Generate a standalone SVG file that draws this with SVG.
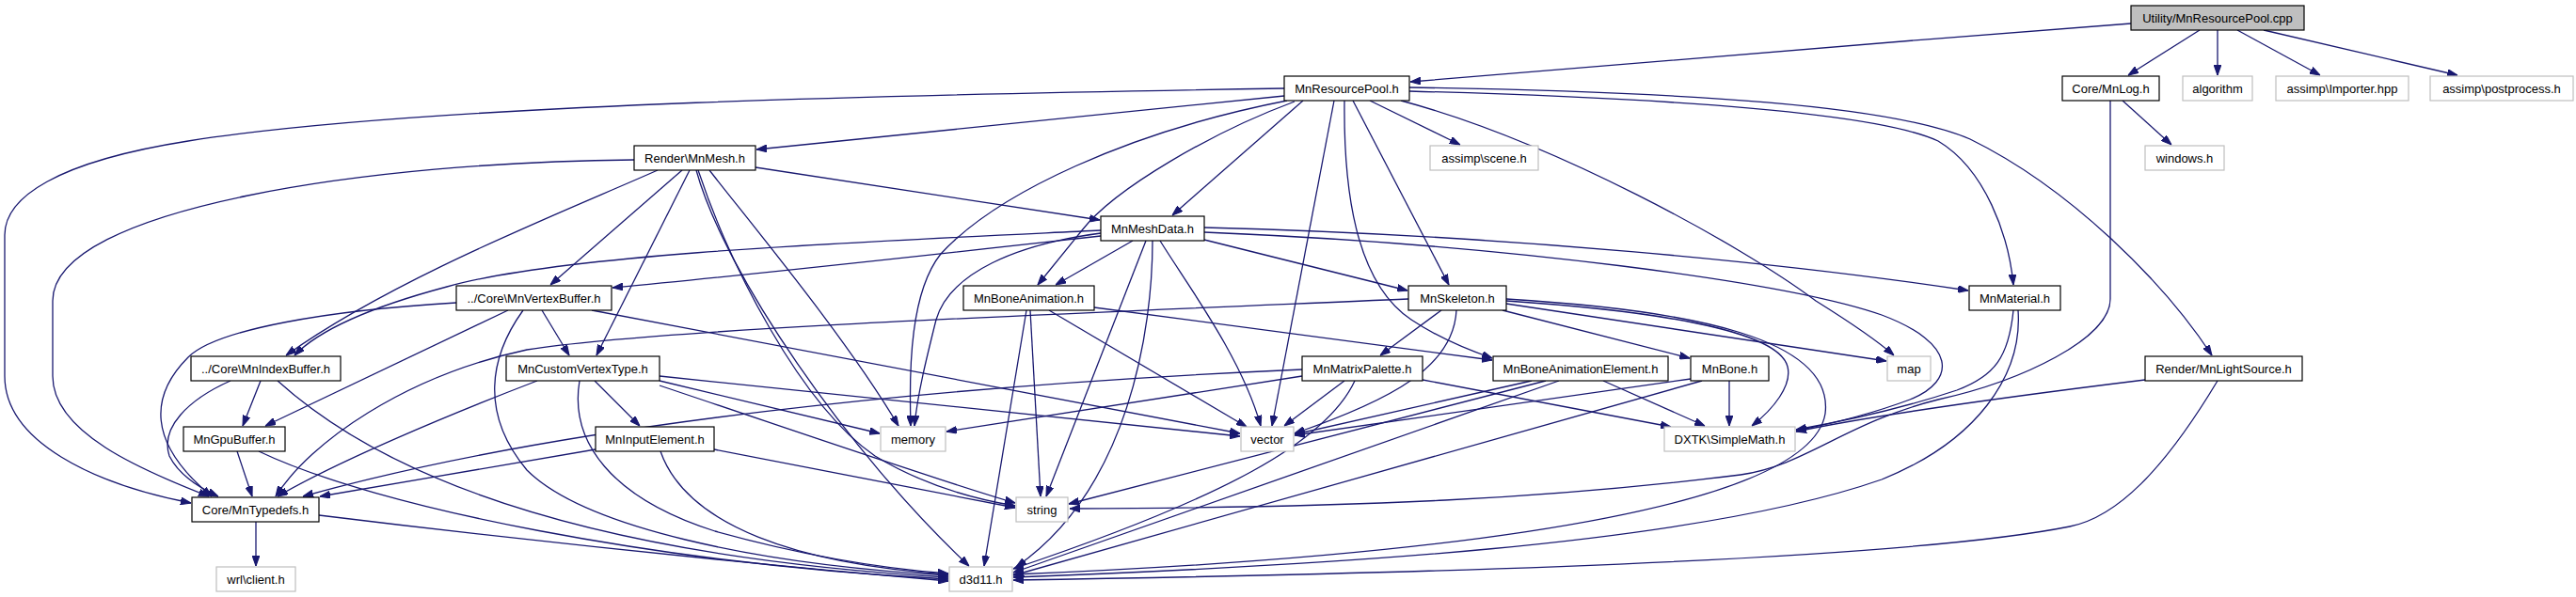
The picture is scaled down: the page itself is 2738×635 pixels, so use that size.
<svg xmlns="http://www.w3.org/2000/svg" width="2738" height="635" viewBox="0 0 2738 635">
<style>
.n rect{fill:#fff;stroke:#000;stroke-width:1.2}
.g rect{fill:#fff;stroke:#bfbfbf;stroke-width:1.2}
.r rect{fill:#bfbfbf;stroke:#000;stroke-width:1.2}
text{font-family:"Liberation Sans",Arial,sans-serif;font-size:13px;text-anchor:middle;fill:#000}
#edges path{fill:none;stroke:#191970;stroke-width:1.3;marker-end:url(#a)}
</style>
<defs>
<marker id="a" markerUnits="userSpaceOnUse" markerWidth="11" markerHeight="8" viewBox="0 0 10 7" refX="10" refY="3.5" orient="auto">
<path d="M0,0 L10,3.5 L0,7 z" fill="#191970" stroke="#191970"/>
</marker>
</defs>
<rect width="2738" height="635" fill="#fff"/>
<g id="edges">
<path d="M2265,25 C2000,45 1700,70 1499,87"/>
<path d="M2338,32 L2262,80"/>
<path d="M2357,32 L2357,80"/>
<path d="M2378,32 L2466,80"/>
<path d="M2406,32 L2612,80"/>
<path d="M2256,107 L2308,154"/>
<path d="M2243,107 L2243,318 C2243,360 2150,405 2060,425 C1960,450 1920,495 1850,505 C1650,530 1450,540 1137,541"/>
<path d="M1365,94 C1000,100 450,110 200,150 C60,172 5,210 5,250 L5,400 C5,470 100,515 203,535"/>
<path d="M1365,102 L804,159"/>
<path d="M1368,107 C1200,140 1060,205 1000,270 C968,310 966,390 968,453"/>
<path d="M1376,108 C1290,140 1185,200 1150,245 L1103,303"/>
<path d="M1385,107 L1246,229"/>
<path d="M1418,107 L1352,453"/>
<path d="M1429,107 C1428,200 1440,300 1500,340 C1530,360 1560,372 1586,381"/>
<path d="M1438,107 L1540,303"/>
<path d="M1456,107 L1552,154"/>
<path d="M1489,107 C1650,150 1850,260 1930,320 C1970,345 1995,362 2013,378"/>
<path d="M1498,97 C1800,105 2000,122 2060,150 C2110,180 2135,250 2140,303"/>
<path d="M1498,93 C1800,98 2010,112 2094,148 C2200,200 2300,300 2351,378"/>
<path d="M674,170 C400,172 56,220 56,320 L56,400 C56,460 150,500 222,528"/>
<path d="M699,181 C600,225 420,295 304,378"/>
<path d="M725,181 L585,303"/>
<path d="M733,181 L634,378"/>
<path d="M740,181 C770,290 900,480 1030,602"/>
<path d="M742,181 C775,280 850,430 930,485 C980,515 1030,530 1079,538"/>
<path d="M754,181 C800,240 900,360 955,453"/>
<path d="M803,178 L1169,234"/>
<path d="M1170,245 C900,258 600,270 475,305 C400,325 340,350 313,378"/>
<path d="M1170,251 C1000,270 800,292 651,306"/>
<path d="M1170,248 C1080,260 1010,290 995,340 C985,380 975,420 972,453"/>
<path d="M1204,256 L1122,303"/>
<path d="M1225,256 C1225,350 1200,520 1080,603"/>
<path d="M1218,256 L1112,528"/>
<path d="M1233,256 C1260,300 1320,380 1340,453"/>
<path d="M1280,255 L1496,309"/>
<path d="M1280,242 C1600,250 1900,280 2092,309"/>
<path d="M1280,247 C1600,260 1900,300 2000,335 C2080,365 2080,405 2030,425 C1990,440 1950,450 1909,458"/>
<path d="M485,322 C350,330 230,350 200,380 C160,420 155,470 225,528"/>
<path d="M540,330 L282,453"/>
<path d="M576,330 L605,378"/>
<path d="M556,330 C520,380 510,440 560,500 C620,560 800,600 1008,612"/>
<path d="M629,330 L1318,461"/>
<path d="M245,405 C200,425 170,455 180,485 C190,505 210,518 232,528"/>
<path d="M277,405 L258,453"/>
<path d="M295,405 C400,500 600,590 1008,614"/>
<path d="M252,480 L268,528"/>
<path d="M275,480 C400,540 700,600 1008,616"/>
<path d="M571,405 C480,440 360,490 295,528"/>
<path d="M632,405 L680,453"/>
<path d="M616,405 C605,470 650,530 760,565 C850,590 930,604 1008,610"/>
<path d="M701,405 L935,461"/>
<path d="M701,400 L1318,464"/>
<path d="M701,410 C850,460 1000,512 1079,535"/>
<path d="M633,478 L340,528"/>
<path d="M702,480 C730,560 850,600 1008,611"/>
<path d="M759,478 L1079,540"/>
<path d="M272,555 L272,602"/>
<path d="M339,548 C600,580 800,600 1008,618"/>
<path d="M1163,327 L1586,383"/>
<path d="M1091,330 L1046,602"/>
<path d="M1095,330 L1106,528"/>
<path d="M1115,330 L1325,454"/>
<path d="M1497,318 C1100,335 700,350 560,372 C430,400 330,470 293,528"/>
<path d="M1532,330 L1467,378"/>
<path d="M1548,330 C1545,390 1480,425 1376,461"/>
<path d="M1597,330 L1796,381"/>
<path d="M1601,323 L2005,384"/>
<path d="M1601,320 C1750,330 1890,350 1900,390 C1905,410 1885,435 1862,453"/>
<path d="M1601,318 C1800,330 1950,360 1940,440 C1920,560 1400,598 1077,611"/>
<path d="M1384,393 C1000,410 600,450 322,528"/>
<path d="M1384,400 L1006,459"/>
<path d="M1429,405 L1365,453"/>
<path d="M1440,405 C1410,470 1300,530 1077,605"/>
<path d="M1512,404 L1776,454"/>
<path d="M1628,405 L1376,462"/>
<path d="M1643,405 L1136,536"/>
<path d="M1657,405 L1077,609"/>
<path d="M1704,405 L1812,453"/>
<path d="M1797,403 L1376,463"/>
<path d="M1809,405 L1077,612"/>
<path d="M1838,405 L1838,453"/>
<path d="M2140,330 C2135,380 2120,400 2080,415 C2020,435 1960,448 1909,457"/>
<path d="M2145,330 C2150,400 2100,470 2000,510 C1800,580 1400,602 1077,614"/>
<path d="M2280,404 C2150,420 2000,440 1909,459"/>
<path d="M2357,405 C2300,500 2250,550 2200,560 C2000,600 1400,612 1077,617"/>
</g>
<g id="cpp" class="r"><rect x="2265" y="6" width="184" height="26"/><text x="2357" y="23.5">Utility/MnResourcePool.cpp</text></g>
<g id="MnResourcePool_h" class="n"><rect x="1365" y="81" width="133" height="26"/><text x="1431.5" y="98.5">MnResourcePool.h</text></g>
<g id="MnLog_h" class="n"><rect x="2192" y="81" width="103" height="26"/><text x="2243.5" y="98.5">Core/MnLog.h</text></g>
<g id="algorithm" class="g"><rect x="2320" y="81" width="74" height="26"/><text x="2357" y="98.5">algorithm</text></g>
<g id="Importer_hpp" class="g"><rect x="2419" y="81" width="141" height="26"/><text x="2489.5" y="98.5">assimp\Importer.hpp</text></g>
<g id="postprocess_h" class="g"><rect x="2583" y="81" width="152" height="26"/><text x="2659" y="98.5">assimp\postprocess.h</text></g>
<g id="MnMesh_h" class="n"><rect x="674" y="155" width="129" height="26"/><text x="738.5" y="172.5">Render\MnMesh.h</text></g>
<g id="scene_h" class="g"><rect x="1520" y="155" width="115" height="26"/><text x="1577.5" y="172.5">assimp\scene.h</text></g>
<g id="windows_h" class="g"><rect x="2280" y="155" width="84" height="26"/><text x="2322" y="172.5">windows.h</text></g>
<g id="MnMeshData_h" class="n"><rect x="1170" y="230" width="110" height="26"/><text x="1225" y="247.5">MnMeshData.h</text></g>
<g id="MnVertexBuffer_h" class="n"><rect x="485" y="304" width="165" height="26"/><text x="567.5" y="321.5">../Core\MnVertexBuffer.h</text></g>
<g id="MnBoneAnimation_h" class="n"><rect x="1024" y="304" width="139" height="26"/><text x="1093.5" y="321.5">MnBoneAnimation.h</text></g>
<g id="MnSkeleton_h" class="n"><rect x="1497" y="304" width="104" height="26"/><text x="1549" y="321.5">MnSkeleton.h</text></g>
<g id="MnMaterial_h" class="n"><rect x="2093" y="304" width="97" height="26"/><text x="2141.5" y="321.5">MnMaterial.h</text></g>
<g id="MnIndexBuffer_h" class="n"><rect x="203" y="379" width="159" height="26"/><text x="282.5" y="396.5">../Core\MnIndexBuffer.h</text></g>
<g id="MnCustomVertexType_h" class="n"><rect x="538" y="379" width="163" height="26"/><text x="619.5" y="396.5">MnCustomVertexType.h</text></g>
<g id="MnMatrixPalette_h" class="n"><rect x="1384" y="379" width="128" height="26"/><text x="1448" y="396.5">MnMatrixPalette.h</text></g>
<g id="MnBoneAnimationElement_h" class="n"><rect x="1587" y="379" width="186" height="26"/><text x="1680" y="396.5">MnBoneAnimationElement.h</text></g>
<g id="MnBone_h" class="n"><rect x="1797" y="379" width="83" height="26"/><text x="1838.5" y="396.5">MnBone.h</text></g>
<g id="map" class="g"><rect x="2006" y="379" width="46" height="26"/><text x="2029" y="396.5">map</text></g>
<g id="MnLightSource_h" class="n"><rect x="2280" y="379" width="167" height="26"/><text x="2363.5" y="396.5">Render/MnLightSource.h</text></g>
<g id="MnGpuBuffer_h" class="n"><rect x="195" y="454" width="108" height="26"/><text x="249" y="471.5">MnGpuBuffer.h</text></g>
<g id="MnInputElement_h" class="n"><rect x="633" y="454" width="126" height="26"/><text x="696" y="471.5">MnInputElement.h</text></g>
<g id="memory" class="g"><rect x="936" y="454" width="69" height="26"/><text x="970.5" y="471.5">memory</text></g>
<g id="vector" class="g"><rect x="1319" y="454" width="56" height="26"/><text x="1347" y="471.5">vector</text></g>
<g id="SimpleMath_h" class="g"><rect x="1769" y="454" width="139" height="26"/><text x="1838.5" y="471.5">DXTK\SimpleMath.h</text></g>
<g id="MnTypedefs_h" class="n"><rect x="204" y="529" width="135" height="26"/><text x="271.5" y="546.5">Core/MnTypedefs.h</text></g>
<g id="string" class="g"><rect x="1080" y="529" width="55" height="26"/><text x="1107.5" y="546.5">string</text></g>
<g id="client_h" class="g"><rect x="230" y="603" width="84" height="26"/><text x="272" y="620.5">wrl\client.h</text></g>
<g id="d3d11_h" class="g"><rect x="1009" y="603" width="67" height="26"/><text x="1042.5" y="620.5">d3d11.h</text></g>
</svg>
